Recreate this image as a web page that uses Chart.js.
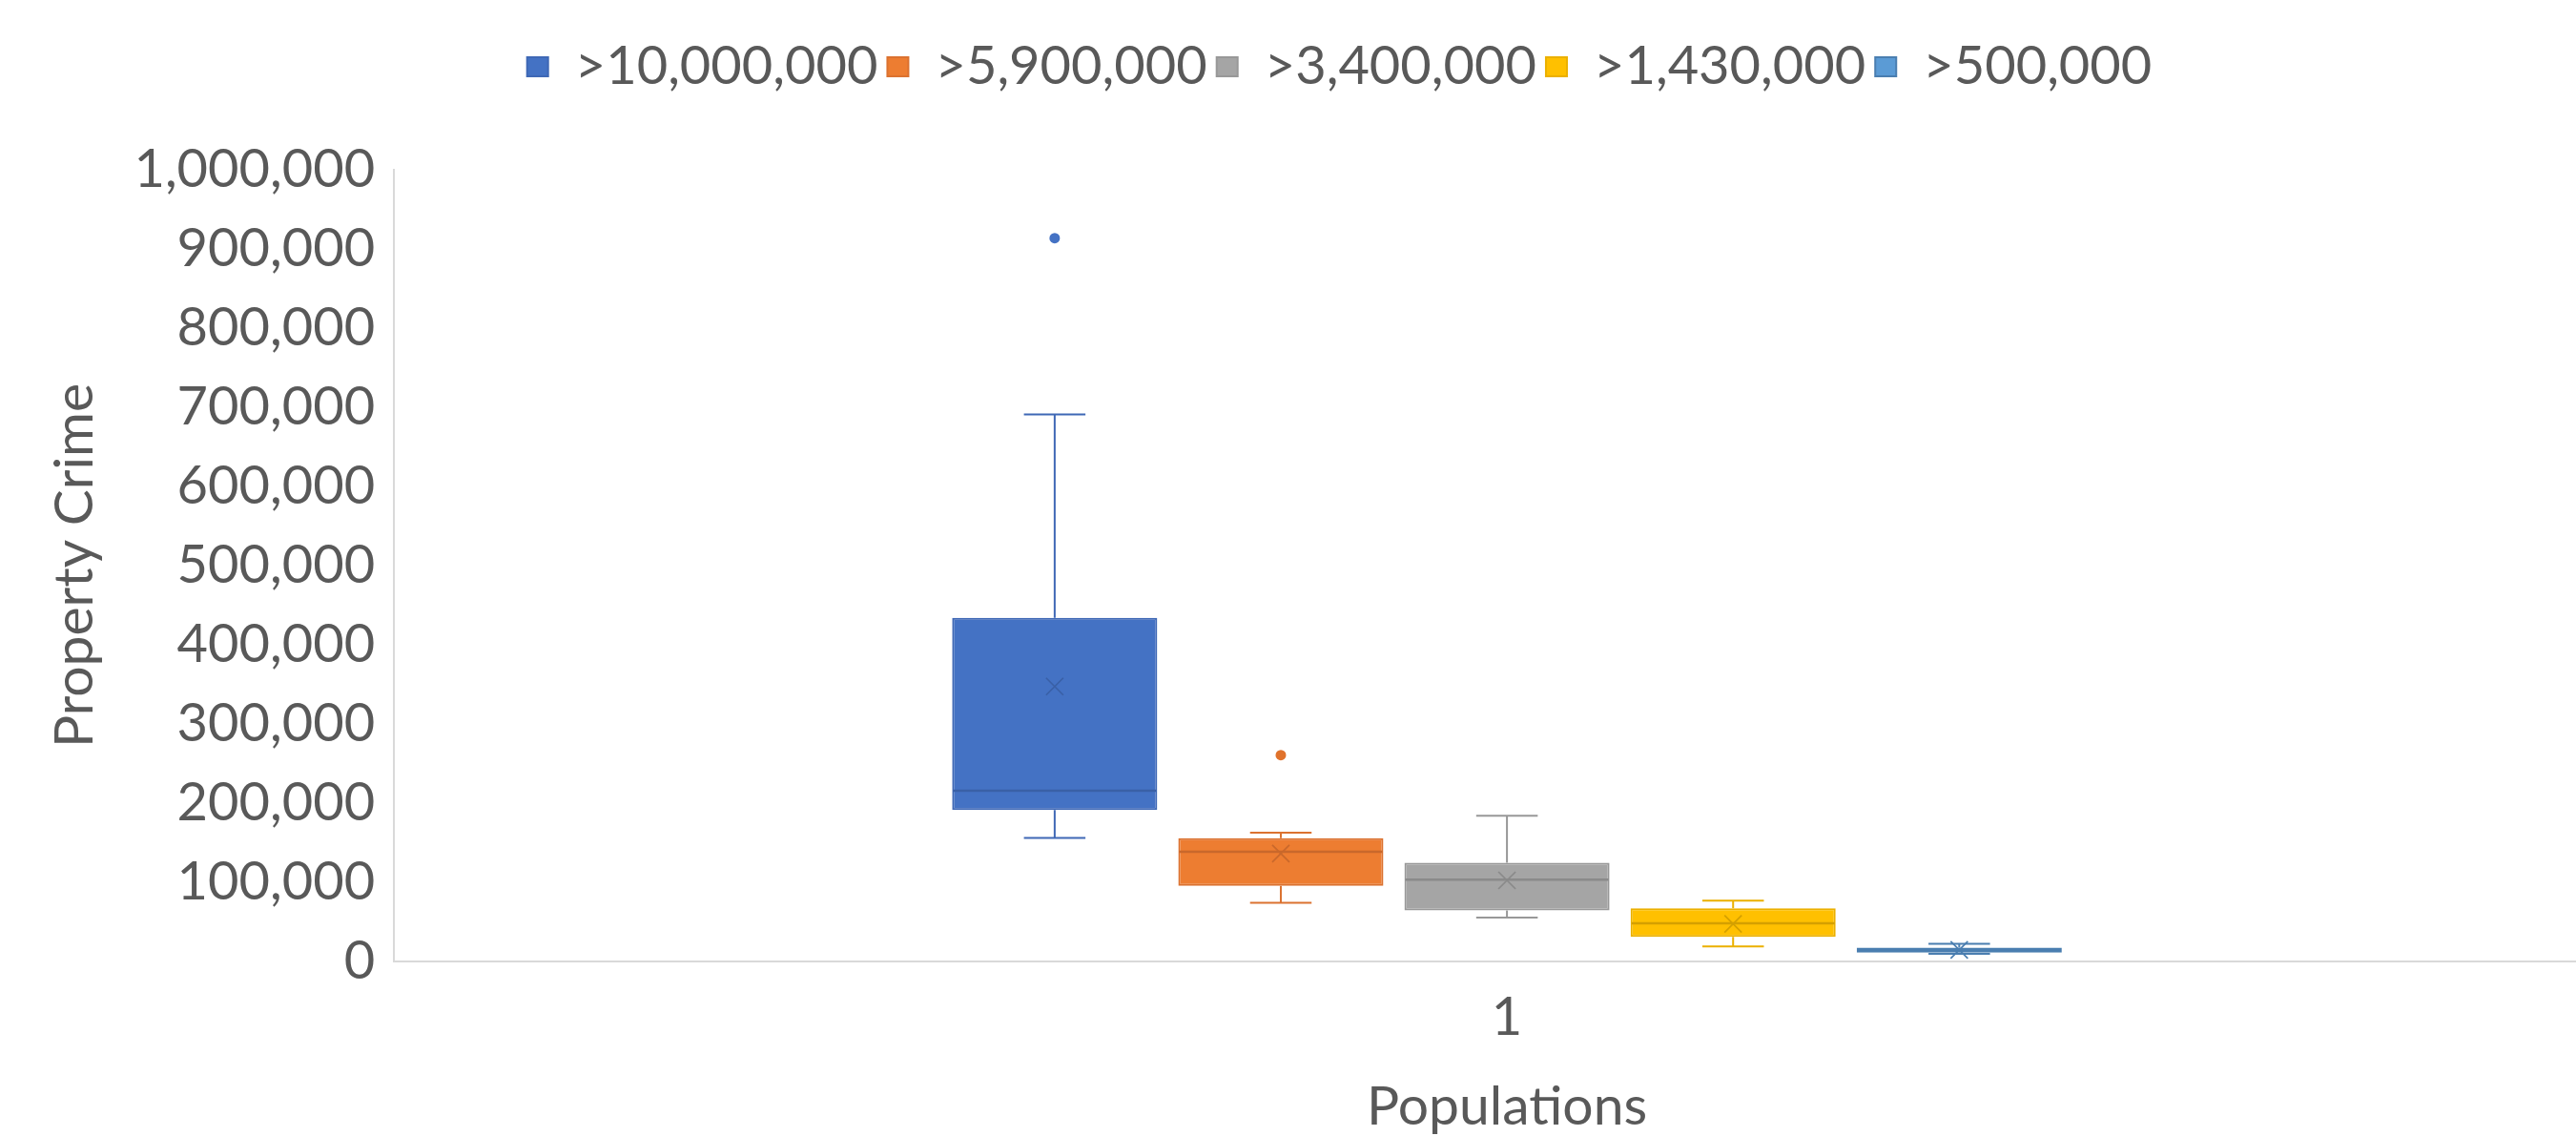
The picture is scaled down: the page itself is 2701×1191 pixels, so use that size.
<!DOCTYPE html>
<html>
<head>
<meta charset="utf-8">
<script src="https://cdn.jsdelivr.net/npm/chart.js@4"></script>
<style>
  html, body { margin: 0; padding: 0; background: #ffffff; overflow: hidden; }
  #wrap { width: 2780px; height: 1191px; }
</style>
</head>
<body>
<div id="wrap"><canvas id="c" width="2780" height="1191"></canvas></div>
<script>
// ---- Data ----
const categories = ['1'];
const seriesNames = ['>10,000,000', '>5,900,000', '>3,400,000', '>1,430,000', '>500,000'];
const whiskerLow  = [156000,  74000,  55400, 19100,  9600];
const q1Values    = [191300,  95600,  64600, 31100, 11100];
const medianValues= [215800, 138700, 103200, 48200, 14300];
const q3Values    = [434000, 155800, 124700, 67300, 17600];
const whiskerHigh = [691000, 162600, 184100, 76900, 22300];
const meanValues  = [347300, 136300, 102400, 47400, 14500];
const outlierValues = [[913600], [260600], [], [], []];
const yTicks = [0, 100000, 200000, 300000, 400000, 500000, 600000, 700000, 800000, 900000, 1000000];

// ---- Styles ----
const fillColors   = ['#4472C4', '#ED7D31', '#A5A5A5', '#FFC000', '#5B9BD5'];
const borderColors = ['#3F68B5', '#DB7230', '#989898', '#EBB000', '#4A7EB0'];
const markColors   = ['#3A60A6', '#C9682B', '#8A8A8A', '#D4A000', '#4A7EB0'];
const outlierColors= ['#4472C4', '#E0722C', '#A5A5A5', '#FFC000', '#5B9BD5'];
const textColor = '#595959';
const FONT = 'Lato, "Open Sans", sans-serif';

const datasets = seriesNames.map((name, i) => ({
  label: name,
  data: categories.map(() => [q1Values[i], q3Values[i]]),
  backgroundColor: fillColors[i],
  borderColor: borderColors[i],
  borderWidth: 2,
  borderSkipped: false,
  categoryPercentage: 0.508,
  barPercentage: 0.907
}));

const boxPlotExtras = {
  id: 'boxPlotExtras',
  afterDatasetsDraw(chart) {
    const ctx = chart.ctx;
    const y = chart.scales.y;
    chart.data.datasets.forEach((ds, i) => {
      const meta = chart.getDatasetMeta(i);
      if (meta.hidden) return;
      meta.data.forEach((bar) => {
        const x = bar.x;
        const w = bar.width;
        const capHalf = w * 0.15;
        const yQ1 = y.getPixelForValue(q1Values[i]);
        const yQ3 = y.getPixelForValue(q3Values[i]);
        const yLo = y.getPixelForValue(whiskerLow[i]);
        const yHi = y.getPixelForValue(whiskerHigh[i]);
        const yMed = y.getPixelForValue(medianValues[i]);
        const yMean = y.getPixelForValue(meanValues[i]);
        ctx.save();
        // whiskers
        ctx.strokeStyle = borderColors[i];
        ctx.lineWidth = 2;
        ctx.beginPath();
        ctx.moveTo(x, yQ3); ctx.lineTo(x, yHi);
        ctx.moveTo(x - capHalf, yHi); ctx.lineTo(x + capHalf, yHi);
        ctx.moveTo(x, yQ1); ctx.lineTo(x, yLo);
        ctx.moveTo(x - capHalf, yLo); ctx.lineTo(x + capHalf, yLo);
        ctx.stroke();
        // median
        ctx.strokeStyle = markColors[i];
        ctx.lineWidth = 2.5;
        ctx.beginPath();
        ctx.moveTo(x - w / 2 + 1, yMed); ctx.lineTo(x + w / 2 - 1, yMed);
        ctx.stroke();
        // mean marker (x)
        const s = 9;
        ctx.lineWidth = 1.7;
        ctx.beginPath();
        ctx.moveTo(x - s, yMean - s); ctx.lineTo(x + s, yMean + s);
        ctx.moveTo(x - s, yMean + s); ctx.lineTo(x + s, yMean - s);
        ctx.stroke();
        // outliers
        ctx.fillStyle = outlierColors[i];
        outlierValues[i].forEach((v) => {
          ctx.beginPath();
          ctx.arc(x, y.getPixelForValue(v), 5.5, 0, Math.PI * 2);
          ctx.fill();
        });
        ctx.restore();
      });
    });
  }
};

const legendSpacer = {
  id: 'legendSpacer',
  beforeInit(chart) {
    const lg = chart.legend;
    if (!lg) return;
    const origFit = lg.fit;
    lg.fit = function () {
      origFit.call(lg);
      this.height += 70;
    };
  },
  afterLayout(chart) {
    const lg = chart.legend;
    if (!lg) return;
    lg.left += 26;
    lg.right += 26;
  }
};

new Chart(document.getElementById('c'), {
  type: 'bar',
  data: { labels: categories, datasets },
  plugins: [legendSpacer, boxPlotExtras],
  options: {
    responsive: false,
    animation: false,
    layout: { padding: { top: 32, right: 33, bottom: 1.5, left: 10 } },
    plugins: {
      tooltip: { enabled: false },
      legend: {
        position: 'top',
        labels: {
          color: textColor,
          font: { family: FONT, size: 56, lineHeight: 1.2 },
          boxWidth: 22,
          boxHeight: 20,
          padding: 10
        }
      }
    },
    scales: {
      x: {
        offset: true,
        grid: { display: false, drawTicks: false },
        border: { display: true, color: '#D9D9D9', width: 2 },
        ticks: { color: textColor, font: { family: FONT, size: 56, lineHeight: 1.2 }, padding: 25.4 },
        title: {
          display: true, text: 'Populations', color: textColor,
          font: { family: FONT, size: 57, lineHeight: 1.0 },
          padding: { top: 6.5, bottom: 0 }
        }
      },
      y: {
        min: 0,
        max: 1000000,
        afterBuildTicks(scale) { scale.ticks = yTicks.map(v => ({ value: v })); },
        grid: { display: false, drawTicks: false },
        border: { display: true, color: '#D9D9D9', width: 2 },
        ticks: {
          color: textColor,
          font: { family: FONT, size: 56, lineHeight: 1.2 },
          padding: 20,
          callback: (v) => Number(v).toLocaleString('en-US')
        },
        title: {
          display: true, text: 'Property Crime', color: textColor,
          font: { family: FONT, size: 57, lineHeight: 1.2 },
          padding: { top: 34, bottom: 8 }
        }
      }
    }
  }
});
</script>
</body>
</html>
